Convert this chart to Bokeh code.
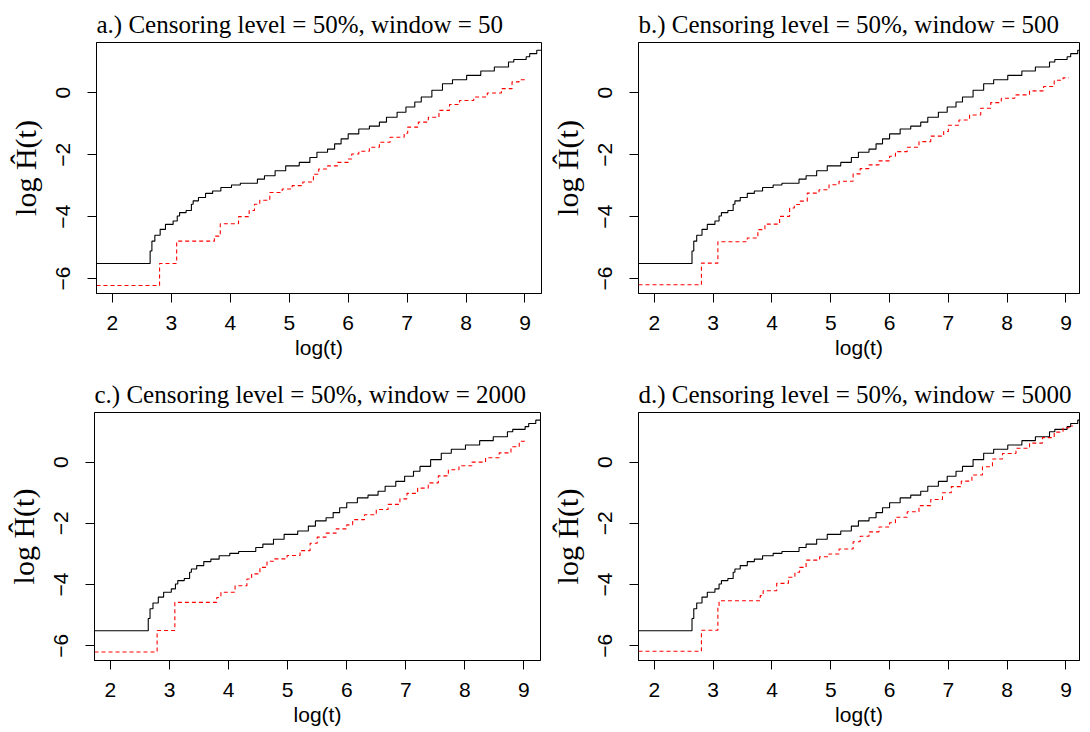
from bokeh.plotting import figure
from bokeh.layouts import column, row
from bokeh.models import FixedTicker
from bokeh.embed import file_html
from bokeh.resources import INLINE

# ---------------- data ----------------
titles = [
    "a.) Censoring level = 50%, window = 50",
    "b.) Censoring level = 50%, window = 500",
    "c.) Censoring level = 50%, window = 2000",
    "d.) Censoring level = 50%, window = 5000",
]
x_ticks = [2, 3, 4, 5, 6, 7, 8, 9]
y_ticks = [-6, -4, -2, 0]

# black solid step curve (same in all four panels)
black_x = [1.73, 2.64, 2.67, 2.72, 2.81, 2.90, 3.03, 3.10, 3.14, 3.25, 3.34, 3.37,
           3.46, 3.58, 3.70, 3.84, 4.02, 4.17, 4.46, 4.58, 4.76, 4.94, 5.17, 5.35,
           5.47, 5.65, 5.77, 5.88, 6.00, 6.18, 6.36, 6.53, 6.65, 6.83, 6.98, 7.13,
           7.24, 7.42, 7.60, 7.77, 8.01, 8.25, 8.48, 8.72, 8.81, 9.02, 9.08, 9.20, 9.28]
black_y = [-5.51, -5.11, -4.79, -4.60, -4.41, -4.25, -4.14, -3.98, -3.87, -3.80, -3.60, -3.49,
           -3.38, -3.25, -3.17, -3.06, -2.98, -2.92, -2.79, -2.68, -2.52, -2.36, -2.25, -2.09,
           -1.92, -1.82, -1.65, -1.49, -1.33, -1.17, -1.08, -0.95, -0.79, -0.63, -0.46, -0.30,
           -0.14, 0.08, 0.29, 0.42, 0.56, 0.70, 0.83, 0.99, 1.07, 1.16, 1.26, 1.37, 1.37]

# red dashed step curves, one per panel
red_a_x = [1.73, 2.80, 3.09, 3.73, 3.83, 4.14, 4.32, 4.41, 4.50, 4.67, 4.88, 5.05, 5.23,
           5.41, 5.50, 5.65, 5.82, 6.00, 6.06, 6.18, 6.36, 6.53, 6.71, 6.95, 7.01, 7.19,
           7.36, 7.54, 7.72, 7.89, 8.13, 8.36, 8.60, 8.78, 8.90, 9.04]
red_a_y = [-6.22, -5.51, -4.79, -4.63, -4.23, -4.00, -3.80, -3.60, -3.47, -3.22, -3.11, -3.00, -2.88,
           -2.63, -2.46, -2.36, -2.25, -2.14, -1.98, -1.89, -1.76, -1.60, -1.44, -1.31, -1.11, -0.95,
           -0.79, -0.57, -0.38, -0.25, -0.14, -0.01, 0.13, 0.35, 0.42, 0.42]

red_b_x = [1.73, 2.80, 3.08, 3.58, 3.76, 3.88, 4.13, 4.30, 4.38, 4.47, 4.60, 4.80, 4.97,
           5.14, 5.38, 5.50, 5.65, 5.82, 6.00, 6.10, 6.30, 6.50, 6.70, 6.92, 7.00, 7.18,
           7.36, 7.55, 7.72, 7.90, 8.13, 8.38, 8.62, 8.80, 8.95, 9.05]
red_b_y = [-6.20, -5.50, -4.81, -4.69, -4.42, -4.24, -3.99, -3.72, -3.61, -3.50, -3.24, -3.13, -2.97,
           -2.86, -2.62, -2.45, -2.33, -2.20, -2.05, -1.90, -1.76, -1.58, -1.40, -1.25, -1.05, -0.88,
           -0.72, -0.50, -0.32, -0.18, -0.07, 0.06, 0.20, 0.40, 0.48, 0.48]

red_c_x = [1.73, 2.79, 3.09, 3.80, 3.87, 4.11, 4.31, 4.39, 4.53, 4.65, 4.76, 4.99, 5.21,
           5.38, 5.50, 5.65, 5.82, 6.00, 6.10, 6.30, 6.50, 6.70, 6.90, 7.02, 7.20, 7.38,
           7.55, 7.72, 7.90, 8.12, 8.35, 8.58, 8.78, 8.92, 9.05]
red_c_y = [-6.20, -5.50, -4.58, -4.42, -4.25, -4.04, -3.82, -3.65, -3.44, -3.24, -3.16, -3.05, -2.89,
           -2.65, -2.45, -2.32, -2.18, -2.05, -1.88, -1.72, -1.55, -1.38, -1.20, -1.02, -0.85, -0.68,
           -0.45, -0.25, -0.12, 0.00, 0.14, 0.30, 0.50, 0.68, 0.68]

red_d_x = [1.73, 2.80, 3.08, 3.10, 3.80, 3.85, 4.08, 4.28, 4.39, 4.47, 4.58, 4.81, 4.97,
           5.14, 5.38, 5.50, 5.65, 5.82, 6.00, 6.10, 6.30, 6.50, 6.70, 6.90, 7.05, 7.22,
           7.40, 7.58, 7.75, 7.92, 8.15, 8.38, 8.60, 8.80, 8.95, 9.05, 9.12]
red_d_y = [-6.18, -5.49, -4.69, -4.53, -4.36, -4.20, -3.96, -3.76, -3.60, -3.44, -3.20, -3.09, -3.00,
           -2.84, -2.60, -2.42, -2.28, -2.12, -1.98, -1.80, -1.62, -1.42, -1.22, -1.00, -0.80, -0.62,
           -0.42, -0.15, 0.10, 0.28, 0.45, 0.62, 0.80, 0.98, 1.12, 1.18, 1.18]

x_label = "log(t)"
y_label = "log \u0124(t)"

SERIF = "Liberation Serif"
SANS = "Liberation Sans"


def make_panel(title, rx, ry, x_end, b_left, b_right, b_top, b_bottom):
    p = figure(width=545, height=366, x_range=(1.73, x_end), y_range=(-6.48, 1.62),
               output_backend="svg", toolbar_location=None,
               min_border_left=b_left, min_border_right=b_right,
               min_border_top=b_top, min_border_bottom=b_bottom,
               background_fill_color="white", border_fill_color="white")
    p.step(black_x, black_y, mode="after", line_color="black", line_width=1.1)
    p.step(rx, ry, mode="after", line_color="#FF0000", line_width=1.1, line_dash="4 3")

    p.title.text = title
    p.title.align = "left"
    p.title.text_font = SERIF
    p.title.text_font_size = "25px"
    p.title.text_font_style = "normal"
    p.title.text_color = "black"
    p.title.standoff = 10

    p.outline_line_color = "black"
    p.outline_line_width = 1
    p.outline_line_alpha = 1
    p.xgrid.visible = False
    p.ygrid.visible = False

    for ax in (p.xaxis, p.yaxis):
        ax.axis_line_color = "black"
        ax.major_tick_line_color = "black"
        ax.major_tick_out = 9
        ax.major_tick_in = 0
        ax.minor_tick_line_color = None
        ax.major_label_text_font = SANS
        ax.major_label_text_font_size = "21px"
        ax.major_label_text_color = "black"
        ax.major_label_standoff = 13
        ax.axis_label_text_font_style = "normal"
        ax.axis_label_text_color = "black"

    p.xaxis.ticker = FixedTicker(ticks=x_ticks)
    p.yaxis.ticker = FixedTicker(ticks=y_ticks)
    p.yaxis.major_label_orientation = "vertical"
    p.yaxis.major_label_standoff = 17

    p.xaxis.axis_label = x_label
    p.xaxis.axis_label_text_font = SANS
    p.xaxis.axis_label_text_font_size = "21px"
    p.xaxis.axis_label_standoff = 3

    p.yaxis.axis_label = y_label
    p.yaxis.axis_label_text_font = SERIF
    p.yaxis.axis_label_text_font_size = "30px"
    p.yaxis.axis_label_standoff = 12
    return p


pa = make_panel(titles[0], red_a_x, red_a_y, 9.28, 96, 4, 42, 73)
pb = make_panel(titles[1], red_b_x, red_b_y, 9.23, 93, 11, 42, 73)
pc = make_panel(titles[2], red_c_x, red_c_y, 9.28, 94, 5, 46, 72)
pd = make_panel(titles[3], red_d_x, red_d_y, 9.23, 93, 11, 46, 72)

layout = column(row(pa, pb), row(pc, pd))

open("out.html", "w").write(file_html(layout, INLINE))
